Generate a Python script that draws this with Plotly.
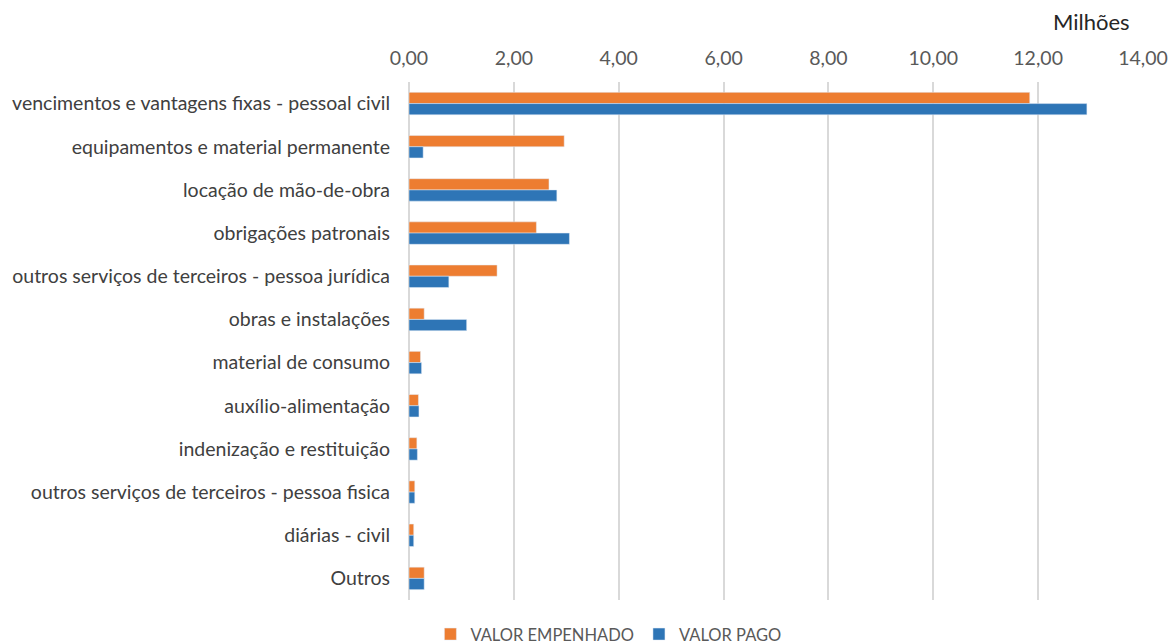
import plotly.graph_objects as go

categories = [
    "vencimentos e vantagens fixas - pessoal civil",
    "equipamentos e material permanente",
    "locação de mão-de-obra",
    "obrigações patronais",
    "outros serviços de terceiros - pessoa jurídica",
    "obras e instalações",
    "material de consumo",
    "auxílio-alimentação",
    "indenização e restituição",
    "outros serviços de terceiros - pessoa fisica",
    "diárias - civil",
    "Outros",
]
valor_empenhado = [11.84, 2.96, 2.67, 2.43, 1.68, 0.29, 0.22, 0.18, 0.15, 0.11, 0.09, 0.29]
valor_pago = [12.93, 0.27, 2.82, 3.06, 0.76, 1.10, 0.24, 0.19, 0.16, 0.11, 0.09, 0.29]
tick_vals = [0, 2, 4, 6, 8, 10, 12, 14]
tick_text = ["0,00", "2,00", "4,00", "6,00", "8,00", "10,00", "12,00", "14,00"]

FONT = "Lato"

fig = go.Figure()
fig.add_trace(go.Bar(y=categories, x=valor_empenhado, orientation="h",
                     name="VALOR EMPENHADO", marker=dict(color="#ED7D31")))
fig.add_trace(go.Bar(y=categories, x=valor_pago, orientation="h",
                     name="VALOR PAGO", marker=dict(color="#2E75B6")))

fig.update_layout(
    width=1170, height=644,
    margin=dict(l=409, r=27, t=82, b=44),
    paper_bgcolor="white", plot_bgcolor="white",
    barmode="group", bargap=0.48, bargroupgap=0,
    font=dict(family=FONT, size=19, color="#404040"),
    showlegend=True,
    legend=dict(orientation="h", xref="container", yref="container",
                x=0.52, xanchor="center", y=0.015, yanchor="middle",
                font=dict(size=16.5, color="#595959"), itemwidth=30,
                traceorder="normal"),
    xaxis=dict(side="top", range=[0, 14], tickvals=tick_vals, ticktext=tick_text,
               showgrid=True, gridcolor="#D9D9D9", gridwidth=1.5,
               zeroline=True, zerolinecolor="#D9D9D9", zerolinewidth=1.5,
               showline=False, tickfont=dict(size=19.5, color="#595959"),
               ticks="", ticklabelstandoff=12, automargin=False),
    yaxis=dict(autorange="reversed", showgrid=False, ticks="",
               tickfont=dict(size=19.5, color="#404040"), ticklabelstandoff=18,
               automargin=False),
    annotations=[dict(text="Milhões", xref="paper", yref="paper",
                      x=0.93, y=1.0, yshift=61, xanchor="center", yanchor="middle",
                      showarrow=False, font=dict(size=22, color="#262626"))],
)

fig.write_html("out.html", config={"displayModeBar": False},
               post_script="document.body.style.margin='0';document.body.style.overflow='hidden';")
